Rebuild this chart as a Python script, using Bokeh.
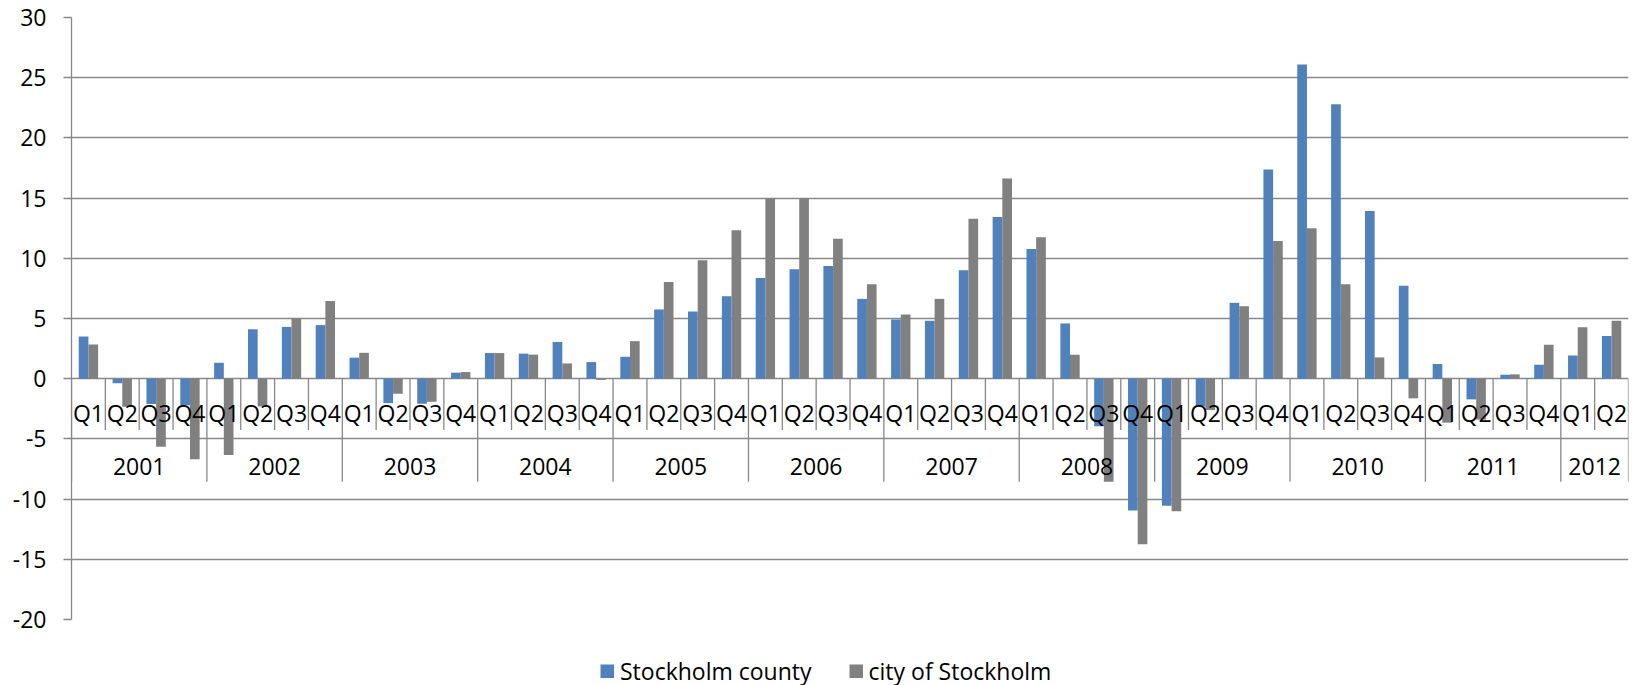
from bokeh.plotting import figure
from bokeh.models import FixedTicker, Legend, LegendItem, Range1d
from bokeh.layouts import column
from bokeh.core.properties import value
from bokeh.embed import file_html
from bokeh.resources import INLINE

# ---- data -------------------------------------------------------------
years = ["2001", "2002", "2003", "2004", "2005", "2006", "2007", "2008",
         "2009", "2010", "2011", "2012"]
quarters_per_year = [4, 4, 4, 4, 4, 4, 4, 4, 4, 4, 4, 2]
quarter_names = ["Q1", "Q2", "Q3", "Q4"]

stockholm_county = [
    3.5, -0.38, -2.1, -2.2,      # 2001
    1.33, 4.1, 4.3, 4.45,        # 2002
    1.75, -2.03, -2.08, 0.5,     # 2003
    2.13, 2.08, 3.05, 1.38,      # 2004
    1.82, 5.75, 5.58, 6.85,      # 2005
    8.37, 9.09, 9.36, 6.63,      # 2006
    4.92, 4.81, 9.0, 13.43,      # 2007
    10.77, 4.59, -3.95, -10.94,  # 2008
    -10.55, -2.3, 6.3, 17.37,    # 2009
    26.1, 22.8, 13.93, 7.73,     # 2010
    1.22, -1.72, 0.33, 1.16,     # 2011
    1.93, 3.54,                  # 2012
]
city_of_stockholm = [
    2.85, -2.33, -5.65, -6.7,    # 2001
    -6.34, -2.3, 5.0, 6.45,      # 2002
    2.15, -1.25, -1.92, 0.55,    # 2003
    2.13, 2.0, 1.27, -0.1,       # 2004
    3.12, 8.04, 9.83, 12.32,     # 2005
    14.97, 14.97, 11.63, 7.85,   # 2006
    5.33, 6.63, 13.29, 16.63,    # 2007
    11.74, 1.99, -8.56, -13.74,  # 2008
    -11.0, -2.6, 6.02, 11.44,    # 2009
    12.49, 7.85, 1.77, -1.63,    # 2010
    -3.65, -3.4, 0.36, 2.82,     # 2011
    4.28, 4.81,                  # 2012
]
y_ticks = [-20, -15, -10, -5, 0, 5, 10, 15, 20, 25, 30]
series_names = ["Stockholm county", "city of Stockholm"]

# ---- derived categories ----------------------------------------------
q_labels = []
for n in quarters_per_year:
    q_labels += quarter_names[:n]
n_cat = len(q_labels)
centers = [i + 0.5 for i in range(n_cat)]

year_bounds = [0]
for n in quarters_per_year:
    year_bounds.append(year_bounds[-1] + n)
year_centers = [(a + b) / 2 for a, b in zip(year_bounds[:-1], year_bounds[1:])]

# ---- style ------------------------------------------------------------
BLUE = "#4F81BD"
GRAY = "#808080"
LINE = "#888888"
FONT = "Open Sans"
FS = "23px"
bar_w = 1 / 3.5
q_label_y = -2.85
year_label_y = -7.26
q_sep_end = -4.26
year_sep_end = -8.56

p = figure(frame_width=1557, frame_height=602,
           x_range=Range1d(0, n_cat), y_range=Range1d(-20, 30),
           output_backend="svg", toolbar_location=None,
           x_axis_location=None,
           min_border_left=71, min_border_right=14, min_border_top=17,
           min_border_bottom=26,
           background_fill_color="white", border_fill_color="white")
p.outline_line_color = None

ticker = FixedTicker(ticks=y_ticks)
p.yaxis.ticker = ticker
p.yaxis.major_label_overrides = {t: str(t) for t in y_ticks}
p.yaxis.axis_line_color = LINE
p.yaxis.axis_line_width = 1.3
p.yaxis.major_tick_line_color = LINE
p.yaxis.major_tick_line_width = 1.3
p.yaxis.major_tick_out = 8
p.yaxis.major_tick_in = 0
p.yaxis.minor_tick_line_color = None
p.yaxis.major_label_text_font = FONT
p.yaxis.major_label_text_font_size = FS
p.yaxis.major_label_text_color = "black"
p.yaxis.major_label_standoff = 17

p.ygrid.ticker = ticker
p.ygrid.grid_line_color = LINE
p.ygrid.grid_line_width = 1.3
p.xgrid.visible = False

p.vbar(x=[c - bar_w / 2 for c in centers], top=stockholm_county, bottom=0,
       width=bar_w, fill_color=BLUE, line_color=None)
p.vbar(x=[c + bar_w / 2 for c in centers], top=city_of_stockholm, bottom=0,
       width=bar_w, fill_color=GRAY, line_color=None)

# category separators
q_seps = [i for i in range(1, n_cat) if i not in year_bounds]
p.segment(x0=q_seps, y0=[0] * len(q_seps), x1=q_seps, y1=[q_sep_end] * len(q_seps),
          line_color=LINE, line_width=1.3)
p.segment(x0=year_bounds, y0=[0] * len(year_bounds), x1=year_bounds,
          y1=[year_sep_end] * len(year_bounds), line_color=LINE, line_width=1.3)

p.text(x=centers, y=[q_label_y] * n_cat, text=q_labels, text_align="center",
       text_baseline="middle", text_font=value(FONT), text_font_size=FS,
       text_color="black")
p.text(x=year_centers, y=[year_label_y] * len(years), text=years, text_align="center",
       text_baseline="middle", text_font=value(FONT), text_font_size=FS,
       text_color="black")

# ---- legend strip below the chart --------------------------------------
lg = figure(width=1642, height=40, x_range=Range1d(0, 1), y_range=Range1d(0, 1),
            output_backend="svg", toolbar_location=None,
            x_axis_location=None, y_axis_location=None,
            min_border_left=0, min_border_right=0, min_border_top=0,
            min_border_bottom=0, background_fill_color="white",
            border_fill_color="white")
lg.outline_line_color = None
lg.xgrid.visible = False
lg.ygrid.visible = False
# key renderers: thick butt-capped lines draw 14x14 squares in the legend;
# their own points sit outside the visible range
k1 = lg.line(x=[5, 6], y=[5, 5], line_width=14, line_color=BLUE, line_cap="butt")
k2 = lg.line(x=[5, 6], y=[5, 5], line_width=14, line_color=GRAY, line_cap="butt")

legend = Legend(items=[LegendItem(label=series_names[0], renderers=[k1]),
                       LegendItem(label=series_names[1], renderers=[k2])],
                orientation="horizontal", location=(529, -2),
                glyph_width=14, glyph_height=14, label_standoff=6, spacing=37,
                padding=0, margin=0, border_line_color=None,
                background_fill_alpha=0,
                label_text_font=FONT, label_text_font_size=FS,
                label_text_color="black")
lg.add_layout(legend, "center")

layout = column(p, lg, spacing=0)
open("out.html", "w").write(file_html(layout, INLINE))
